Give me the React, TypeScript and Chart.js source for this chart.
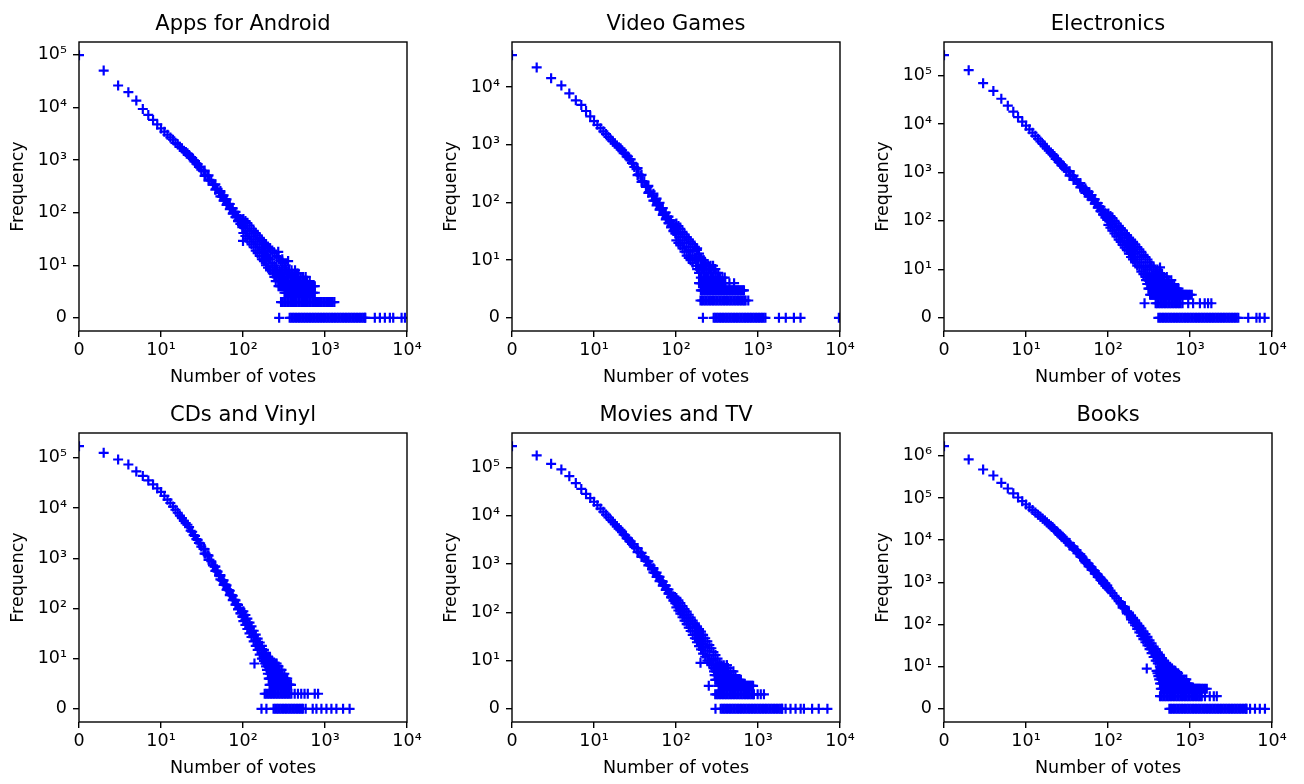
import React, { useEffect, useRef } from 'react';
import { Chart, registerables } from 'chart.js';

Chart.register(...registerables);

// ---------- data (votes and frequencies are counts; both are drawn as log(1 + value)) ----------
const titles = ['Apps for Android', 'Video Games', 'Electronics', 'CDs and Vinyl', 'Movies and TV', 'Books'];
const xTickLabels = ['0', '10¹', '10²', '10³', '10⁴'];
const yTickLabels = ['0', '10¹', '10²', '10³', '10⁴', '10⁵', '10⁶'];
const xAxisTitle = 'Number of votes';
const yAxisTitle = 'Frequency';

// vote counts of the dense head of every distribution
const curveVotes = [0, 1, 2, 3, 4, 5, 6, 7, 8, 9, 10, 11, 12, 13, 14, 15, 16, 17, 18, 19, 20, 21, 22, 23, 24, 25, 26, 27, 28, 29, 30, 32, 34, 36, 38, 40, 42, 44, 46, 48, 50, 52, 54, 56, 58, 60, 63, 66, 69, 72, 75, 78, 81, 84, 87, 90, 93, 96, 99];

const appsFreq = [98600, 50100, 26100, 19500, 13500, 9330, 7210, 5780, 4750, 3980, 3460, 3020, 2690, 2430, 2120, 1990, 1780, 1660, 1490, 1420, 1340, 1250, 1110, 1090, 980, 958, 850, 835, 742, 731, 652, 612, 515, 497, 418, 405, 341, 336, 281, 282, 234, 239, 200, 206, 171, 179, 144, 146, 117, 121, 97, 101, 82, 86, 70, 74, 60, 64, 53];
const gamesFreq = [35800, 21900, 14300, 10700, 7760, 5890, 4900, 3850, 3110, 2570, 2220, 1940, 1710, 1530, 1370, 1240, 1140, 1050, 965, 897, 870, 800, 712, 701, 628, 625, 560, 556, 483, 472, 411, 378, 305, 291, 234, 229, 185, 186, 151, 155, 126, 130, 107, 111, 91, 96, 76, 78, 62, 65, 52, 55, 43, 47, 38, 41, 32, 35, 28];
const elecFreq = [263000, 129000, 69500, 48000, 33100, 23800, 17900, 13900, 11200, 9230, 7740, 6590, 5680, 4950, 4360, 3870, 3460, 3110, 2810, 2560, 2400, 2190, 1910, 1860, 1650, 1610, 1420, 1400, 1250, 1230, 1110, 1040, 880, 840, 720, 695, 600, 586, 507, 501, 434, 434, 378, 379, 330, 334, 284, 277, 232, 230, 193, 193, 162, 165, 139, 141, 120, 123, 104];
const cdsFreq = [171000, 126000, 92700, 73600, 53700, 43600, 35500, 29500, 24600, 20900, 17400, 14700, 12600, 10700, 9250, 8050, 7080, 6270, 5570, 5010, 4650, 4160, 3530, 3370, 2890, 2780, 2410, 2330, 2020, 1970, 1710, 1540, 1240, 1150, 930, 870, 718, 681, 564, 542, 448, 437, 364, 356, 299, 297, 238, 231, 186, 183, 148, 147, 119, 120, 97, 98, 80, 82, 67];
const moviesFreq = [277000, 178000, 119000, 91200, 66100, 47500, 36000, 28400, 23300, 19500, 16600, 14100, 12100, 10600, 9290, 8260, 7390, 6640, 5970, 5420, 5080, 4650, 4040, 3950, 3450, 3390, 2980, 2940, 2600, 2560, 2270, 2120, 1780, 1690, 1430, 1380, 1180, 1140, 958, 929, 787, 771, 657, 646, 553, 550, 454, 441, 366, 359, 298, 296, 248, 250, 210, 211, 178, 181, 153];
const booksFreq = [1700000, 822000, 475000, 342000, 229000, 168000, 129000, 103000, 84400, 70500, 60100, 52000, 45500, 40300, 36000, 32400, 29200, 26400, 23900, 21900, 20500, 18700, 16500, 15900, 14200, 13800, 12300, 12000, 10800, 10500, 9450, 8700, 7480, 7010, 6080, 5750, 4990, 4690, 4070, 3870, 3360, 3250, 2850, 2760, 2420, 2370, 2010, 1910, 1640, 1570, 1360, 1320, 1140, 1120, 970, 955, 838, 826, 728];

// scattered band: [votes, frequency, frequency, ...]
const appsBand = [[33, 630, 500], [37, 510, 405], [45, 345, 272], [52, 256, 202], [57, 212, 168], [62, 177, 140], [68, 145, 115], [74, 120, 95], [80, 102, 81], [86, 86, 68], [92, 75, 60], [97, 66, 52], [100, 55, 75, 40], [106, 49, 68, 35], [112, 44, 62, 31], [119, 39, 56, 27], [126, 34, 49, 24], [134, 30, 44, 21], [142, 27, 40, 18], [150, 24, 36, 16], [159, 21, 32, 14], [169, 19, 29, 12], [179, 17, 26, 11], [190, 15, 24, 9], [201, 13, 21, 8], [213, 12, 20], [226, 10, 18], [240, 9, 16], [254, 8, 14], [269, 13], [285, 11], [302, 10], [99, 28], [268, 17], [354, 11], [300, 12], [330, 9], [320, 8]];
const gamesBand = [[33, 392, 297], [37, 300, 227], [45, 193, 146], [52, 141, 107], [57, 116, 88], [62, 98, 74], [68, 79, 60], [74, 66, 50], [80, 56, 43], [86, 48, 36], [92, 41, 31], [97, 37, 28], [100, 30, 42, 21], [106, 27, 38, 19], [112, 24, 34, 17], [119, 21, 30, 15], [126, 19, 27, 13], [134, 16, 24, 11], [142, 14, 22, 10], [150, 13, 20, 9], [159, 11, 18, 8], [169, 10, 16], [179, 9, 14], [190, 12], [201, 10], [213, 9], [226, 8], [180, 15], [217, 9], [181, 9]];
const elecBand = [[33, 1060, 860], [37, 860, 700], [45, 605, 490], [52, 466, 378], [57, 395, 320], [62, 340, 275], [68, 278, 225], [74, 231, 187], [80, 195, 158], [86, 165, 134], [92, 143, 116], [97, 128, 104], [100, 108, 142, 82], [106, 95, 125, 72], [112, 84, 113, 62], [119, 73, 99, 54], [126, 64, 88, 47], [134, 56, 78, 40], [142, 50, 70, 36], [150, 44, 63, 31], [159, 38, 55, 27], [169, 34, 50, 24], [179, 29, 44, 20], [190, 26, 40, 17], [201, 23, 36, 15], [213, 20, 32, 13], [226, 17, 28, 11], [240, 15, 25, 10], [254, 13, 22, 8], [269, 11, 19], [285, 10, 17], [302, 9, 15], [320, 13], [339, 11], [359, 10], [381, 8], [325, 11], [430, 10], [400, 9]];
const cdsBand = [[33, 1520, 1240], [37, 1130, 930], [45, 680, 557], [52, 463, 379], [57, 361, 295], [62, 287, 235], [68, 224, 184], [74, 178, 146], [80, 144, 118], [86, 117, 95], [92, 97, 79], [97, 84, 68], [100, 69, 87, 55], [106, 58, 73, 46], [112, 49, 62, 38], [119, 40, 51, 31], [126, 33, 43, 26], [134, 27, 35, 21], [142, 22, 29, 17], [150, 18, 24, 14], [159, 15, 20, 11], [169, 12, 17, 9], [179, 10, 14, 8], [190, 8, 12], [201, 10], [213, 9], [226, 8], [137, 7], [190, 7], [256, 7]];
const moviesBand = [[33, 2150, 1760], [37, 1700, 1400], [45, 1140, 940], [52, 820, 670], [57, 660, 540], [62, 540, 443], [68, 433, 355], [74, 355, 291], [80, 296, 242], [86, 248, 203], [92, 212, 174], [97, 187, 153], [100, 157, 198, 125], [106, 137, 175, 108], [112, 120, 155, 93], [119, 102, 134, 78], [126, 87, 116, 66], [134, 75, 102, 56], [142, 64, 88, 47], [150, 55, 77, 40], [159, 47, 66, 33], [169, 40, 58, 28], [179, 34, 50, 23], [190, 29, 44, 19], [201, 25, 39, 16], [213, 21, 33, 13], [226, 18, 28, 11], [240, 15, 24, 9], [254, 12, 20, 8], [269, 10, 17], [285, 9, 14], [302, 12], [320, 10], [339, 8], [198, 8], [416, 7]];
const booksBand = [[33, 8580, 7600], [37, 6910, 6130], [45, 4620, 4100], [52, 3360, 2980], [57, 2730, 2430], [62, 2270, 2010], [68, 1840, 1640], [74, 1530, 1350], [80, 1280, 1140], [86, 1080, 960], [92, 937, 831], [97, 833, 739], [100, 732], [106, 636], [112, 555], [119, 479], [126, 416], [134, 359], [142, 312, 340], [150, 272, 250], [159, 236, 262], [169, 201, 182], [179, 172, 192], [190, 147, 132, 164], [201, 127, 112, 143], [213, 108, 95, 124], [226, 91, 78, 106], [240, 77, 64, 92], [254, 65, 53, 80], [269, 55, 44, 68], [285, 46, 37, 58], [302, 39, 31, 50], [320, 32, 25, 41], [339, 27, 20, 35], [359, 22, 16, 29], [381, 18, 13, 25], [404, 15, 11, 21], [428, 12, 9, 18], [454, 11, 8, 15], [481, 9, 13], [510, 8, 11], [540, 10], [570, 9], [600, 8], [296, 8]];

// low frequencies 2..7: [frequency, votes having it]
const appsLow = [[7, [213, 228, 244, 260, 278, 297, 318, 340, 364, 390, 430]], [6, [230, 246, 263, 281, 301, 322, 344, 368, 394, 421, 450, 470]], [5, [240, 257, 275, 294, 315, 337, 360, 385, 412, 441, 472, 505, 540, 580]], [4, [250, 268, 287, 307, 328, 351, 376, 402, 430, 460, 492, 527, 564, 603, 650]], [3, [270, 280, 289, 299, 309, 320, 331, 342, 354, 366, 379, 392, 405, 419, 434, 449, 464, 480, 497, 514, 531, 550, 569, 588, 608, 629, 651, 675, 700, 725, 750]], [2, [320, 331, 342, 354, 366, 378, 391, 404, 418, 432, 447, 462, 478, 494, 511, 528, 546, 565, 584, 604, 624, 645, 667, 690, 713, 750]]];
const gamesLow = [[7, [175, 188, 201, 215, 230, 246, 263, 282]], [6, [180, 193, 206, 221, 236, 253, 270, 290, 301]], [5, [190, 203, 218, 233, 249, 266, 285, 305, 326]], [4, [200, 214, 229, 245, 262, 280, 300, 321, 343, 367, 392]], [3, [190, 196, 203, 210, 217, 224, 232, 240, 248, 256, 265, 274, 284, 294, 304, 314, 325, 336, 348, 360, 372, 385, 398, 447, 510]], [2, [200, 207, 214, 221, 229, 237, 245, 253, 262, 271, 280, 290, 300, 310, 321, 332, 343, 355, 367, 379, 392, 406, 420, 434, 449, 464, 480, 497, 514, 532, 550, 569, 588, 608, 629, 651, 673]]];
const elecLow = [[7, [269, 285, 302, 320, 339, 359, 381, 404, 428, 455]], [6, [285, 302, 320, 339, 359, 381, 404, 428, 454, 481, 520]], [5, [290, 308, 326, 346, 366, 388, 412, 436, 462, 490, 520, 551, 590]], [4, [300, 318, 337, 357, 379, 401, 425, 451, 478, 507, 537, 569, 603, 640]], [3, [310, 319, 329, 338, 348, 358, 369, 380, 391, 403, 415, 427, 440, 453, 466, 480, 494, 509, 524, 539, 555, 571, 588, 606, 624, 642, 661, 680, 700, 723]], [2, [325, 335, 345, 355, 365, 376, 387, 398, 410, 422, 435, 448, 461, 475, 489, 503, 518, 533, 549, 565, 582, 599, 617, 635, 654, 673, 693, 714, 735, 757, 779, 802, 825, 850, 875, 902, 930, 965, 1000, 1050]]];
const cdsLow = [[7, [185, 196, 208, 221, 234, 248]], [6, [190, 202, 214, 227, 240, 255, 270]], [5, [195, 207, 219, 232, 246, 261, 277, 294]], [4, [200, 212, 225, 238, 252, 267, 283, 300, 318]], [3, [205, 211, 217, 223, 230, 237, 244, 251, 259, 266, 274, 282, 290, 299, 308, 317, 326, 335, 345]], [2, [210, 216, 223, 229, 236, 243, 250, 257, 265, 273, 281, 289, 298, 307, 316, 325, 335, 345, 355, 362, 369, 376, 384]]];
const moviesLow = [[7, [269, 285, 302, 320, 339, 359, 381, 416]], [6, [285, 302, 320, 339, 359, 381, 404, 428]], [5, [290, 307, 325, 345, 365, 387, 410, 435, 461, 500]], [4, [295, 313, 331, 351, 372, 394, 418, 443, 469, 500, 530]], [3, [300, 309, 318, 327, 337, 347, 357, 367, 378, 389, 401, 413, 425, 437, 450, 463, 477, 491, 506, 521, 536, 552, 568, 585, 602, 617]], [2, [250, 330, 340, 350, 360, 371, 382, 393, 405, 417, 429, 442, 455, 468, 482, 496, 511, 526, 541, 557, 574, 591, 608, 626, 645, 664, 683, 703, 724, 745, 767, 790, 815, 840, 870]]];
const booksLow = [[7, [390, 414, 439, 465, 493, 523, 554, 587, 622, 660]], [6, [400, 424, 449, 476, 505, 535, 567, 601, 637, 675, 715]], [5, [410, 435, 461, 488, 518, 549, 582, 617, 654, 693, 734, 778]], [4, [420, 445, 472, 500, 530, 562, 596, 632, 670, 710, 752, 797, 845, 900]], [3, [430, 443, 456, 469, 483, 497, 512, 527, 543, 559, 576, 593, 610, 628, 647, 666, 686, 706, 727, 749, 771, 794, 817, 841, 866, 892, 918, 945, 973]], [2, [440, 453, 466, 480, 494, 509, 524, 539, 555, 572, 589, 606, 624, 642, 661, 681, 701, 722, 743, 765, 788, 811, 835, 860, 885, 911, 938, 966, 995, 1025, 1055, 1086, 1118, 1151, 1185, 1220, 1256, 1294, 1332, 1390, 1450, 1520, 1600]]];

// vote counts that occur exactly once
const appsOnce = [290, 303, 317, 331, 346, 361, 378, 395, 412, 431, 450, 471, 492, 514, 537, 561, 586, 613, 640, 669, 699, 731, 764, 798, 834, 871, 911, 952, 994, 1039, 1086, 1135, 1186, 1240, 1300];
const gamesOnce = [198, 207, 216, 226, 236, 247, 258, 270, 282, 294, 308, 321, 336, 351, 367, 383, 400, 418, 437, 457, 477, 499, 521, 545, 569, 595, 622, 650, 679, 705, 760];
const elecOnce = [278, 380, 397, 415, 434, 453, 474, 495, 517, 541, 565, 590, 617, 645, 674, 704, 736, 769, 810, 950, 1090, 1320, 1510, 1660, 1820];
const cdsOnce = [183, 191, 200, 209, 218, 228, 238, 249, 260, 272, 284, 297, 310, 324, 339, 354, 370, 388, 426, 467, 512, 562, 616, 749, 822];
const moviesOnce = [300, 314, 328, 342, 358, 374, 391, 408, 427, 446, 466, 487, 509, 532, 556, 581, 607, 634, 663, 693, 724, 756, 790, 826, 863, 890, 990, 1080, 1180];
const booksOnce = [430, 449, 470, 491, 513, 536, 560, 585, 612, 639, 668, 698, 729, 762, 796, 832, 870, 909, 950, 992, 1037, 1084, 1132, 1183, 1237, 1292, 1350, 1390, 1520, 1740, 1950, 2120];

// vote counts with zero frequency (empty bins)
const appsNone = [275, 370, 387, 404, 422, 441, 461, 482, 503, 526, 550, 574, 600, 627, 655, 685, 716, 748, 781, 817, 853, 892, 932, 974, 1018, 1063, 1111, 1161, 1213, 1268, 1325, 1385, 1447, 1512, 1580, 1651, 1726, 1803, 1884, 1969, 2058, 2151, 2247, 2348, 2454, 2564, 2680, 2800, 2926, 3058, 3100, 4050, 4670, 5370, 6180, 6790, 8590, 9440];
const gamesNone = [212, 287, 300, 313, 327, 342, 357, 373, 390, 408, 426, 445, 465, 486, 508, 531, 555, 580, 606, 633, 662, 691, 722, 755, 789, 824, 861, 900, 941, 983, 1027, 1073, 1122, 1172, 1230, 1800, 2180, 2740, 3300, 9700];
const elecNone = [410, 428, 448, 468, 489, 511, 534, 558, 583, 609, 637, 665, 695, 727, 759, 793, 829, 867, 906, 946, 989, 1034, 1080, 1129, 1180, 1233, 1288, 1346, 1407, 1470, 1536, 1605, 1678, 1753, 1832, 1914, 2000, 2090, 2185, 2283, 2386, 2493, 2605, 2722, 2845, 2973, 3107, 3247, 3393, 3545, 3705, 3880, 5130, 6460, 7080, 8130];
const cdsNone = [167, 192, 235, 246, 257, 268, 280, 293, 306, 320, 334, 349, 365, 381, 398, 416, 435, 455, 475, 496, 519, 536, 580, 707, 785, 903, 1040, 1196, 1376, 1660, 1994];
const moviesNone = [302, 350, 366, 382, 399, 417, 436, 456, 476, 498, 520, 544, 568, 594, 620, 648, 677, 708, 740, 773, 808, 844, 882, 922, 963, 1007, 1052, 1099, 1149, 1200, 1254, 1311, 1370, 1431, 1496, 1563, 1633, 1707, 1784, 1864, 1948, 1972, 2170, 2490, 2870, 3310, 3630, 4570, 5500, 7020];
const booksNone = [560, 585, 611, 639, 668, 698, 729, 762, 796, 832, 870, 909, 950, 992, 1037, 1084, 1132, 1183, 1237, 1292, 1350, 1411, 1475, 1541, 1610, 1683, 1759, 1838, 1920, 2007, 2097, 2191, 2290, 2393, 2501, 2613, 2731, 2854, 2982, 3116, 3256, 3403, 3556, 3716, 3883, 4058, 4241, 4432, 4631, 4840, 4880, 5400, 6200, 7100, 8200];

const curves = [appsFreq, gamesFreq, elecFreq, cdsFreq, moviesFreq, booksFreq];
const bands = [appsBand, gamesBand, elecBand, cdsBand, moviesBand, booksBand];
const lows: any[] = [appsLow, gamesLow, elecLow, cdsLow, moviesLow, booksLow];
const onces = [appsOnce, gamesOnce, elecOnce, cdsOnce, moviesOnce, booksOnce];
const nones = [appsNone, gamesNone, elecNone, cdsNone, moviesNone, booksNone];

// ---------- layout ----------
const CANVAS_W = 430;
const CANVAS_H = 388;
const colLeft = [0, 433, 865];
const rowTop = [0, 391];
const FONT = 'DejaVu Sans';
const BLUE = '#0000ff';

const framePlugin = {
  id: 'axesFrame',
  afterDatasetsDraw(chart: any) {
    const { ctx, chartArea } = chart;
    ctx.save();
    ctx.strokeStyle = '#000';
    ctx.lineWidth = 1.4;
    ctx.strokeRect(chartArea.left, chartArea.top, chartArea.right - chartArea.left, chartArea.bottom - chartArea.top);
    ctx.restore();
  },
};

function buildPoints(i: number) {
  const pts: { x: number; y: number }[] = [];
  const add = (votes: number, freq: number) => pts.push({ x: votes + 1, y: freq + 1 });
  curveVotes.forEach((v, k) => add(v, curves[i][k]));
  bands[i].forEach((row) => row.slice(1).forEach((f) => add(row[0], f)));
  lows[i].forEach(([f, votes]: [number, number[]]) => votes.forEach((v) => add(v, f)));
  onces[i].forEach((v) => add(v, 1));
  nones[i].forEach((v) => add(v, 0));
  return pts;
}

function makeConfig(i: number): any {
  const pts = buildPoints(i);
  const hi = Math.log10(Math.max(...pts.map((p) => p.y)));
  const yMin = Math.pow(10, -0.05 * hi);
  const yMax = Math.pow(10, hi * 1.05);
  const nY = Math.floor(Math.log10(yMax));
  const yTicks = yTickLabels.slice(0, nY + 1).map((_, k) => Math.pow(10, k));
  const xTicks = xTickLabels.map((_, k) => Math.pow(10, k));

  const tickFont = { family: FONT, size: 17.5 };
  const grid = { display: true, drawOnChartArea: false, drawTicks: true, tickLength: 6, color: '#000', lineWidth: 1.4 };

  return {
    type: 'scatter',
    data: {
      datasets: [
        {
          data: pts,
          pointStyle: 'cross',
          pointRadius: 5,
          pointHoverRadius: 5,
          pointBorderWidth: 2.2,
          pointBorderColor: BLUE,
          pointBackgroundColor: BLUE,
          showLine: false,
          clip: 0,
        },
      ],
    },
    options: {
      animation: false,
      responsive: false,
      maintainAspectRatio: false,
      devicePixelRatio: 1,
      events: [],
      layout: { padding: { left: 0, right: 23, top: 0, bottom: 0 } },
      plugins: {
        legend: { display: false },
        tooltip: { enabled: false },
        title: {
          display: true,
          text: titles[i],
          fullSize: false,
          color: '#000',
          font: { family: FONT, size: 21, weight: 'normal', lineHeight: 1.2 },
          padding: { top: 12.4, bottom: 4.4 },
        },
      },
      scales: {
        x: {
          type: 'logarithmic',
          position: 'bottom',
          min: 1,
          max: 10000,
          bounds: 'data',
          grid,
          border: { display: false },
          afterBuildTicks: (scale: any) => {
            scale.ticks = xTicks.map((v) => ({ value: v }));
          },
          afterFit: (scale: any) => {
            scale.height = 57;
          },
          ticks: {
            autoSkip: false,
            maxRotation: 0,
            minRotation: 0,
            padding: 3,
            color: '#000',
            font: tickFont,
            callback: (_v: any, idx: number) => xTickLabels[idx],
          },
          title: {
            display: true,
            text: xAxisTitle,
            color: '#000',
            font: { family: FONT, size: 17.5, lineHeight: 1.2 },
            padding: { top: 0, bottom: 0 },
          },
        },
        y: {
          type: 'logarithmic',
          position: 'left',
          min: yMin,
          max: yMax,
          bounds: 'data',
          grid,
          border: { display: false },
          afterBuildTicks: (scale: any) => {
            scale.ticks = yTicks.map((v) => ({ value: v }));
          },
          afterFit: (scale: any) => {
            scale.width = 79;
          },
          ticks: {
            autoSkip: false,
            padding: 6,
            color: '#000',
            font: tickFont,
            callback: (_v: any, idx: number) => yTickLabels[idx],
          },
          title: {
            display: true,
            text: yAxisTitle,
            color: '#000',
            font: { family: FONT, size: 17.5, lineHeight: 1.2 },
            padding: { top: 7.5, bottom: 0 },
          },
        },
      },
    },
    plugins: [framePlugin],
  };
}

function Panel({ index }: { index: number }) {
  const ref = useRef<HTMLCanvasElement | null>(null);
  useEffect(() => {
    if (!ref.current) return;
    const chart = new Chart(ref.current, makeConfig(index));
    return () => chart.destroy();
  }, [index]);
  const left = colLeft[index % 3];
  const top = rowTop[Math.floor(index / 3)];
  return (
    <canvas
      ref={ref}
      width={CANVAS_W}
      height={CANVAS_H}
      style={{ position: 'absolute', left, top, width: CANVAS_W, height: CANVAS_H }}
    />
  );
}

export default function App() {
  return (
    <div style={{ position: 'absolute', left: 0, top: 0, width: 1304, height: 784, background: '#fff', overflow: 'hidden' }}>
      {titles.map((_, i) => (
        <Panel key={i} index={i} />
      ))}
    </div>
  );
}
